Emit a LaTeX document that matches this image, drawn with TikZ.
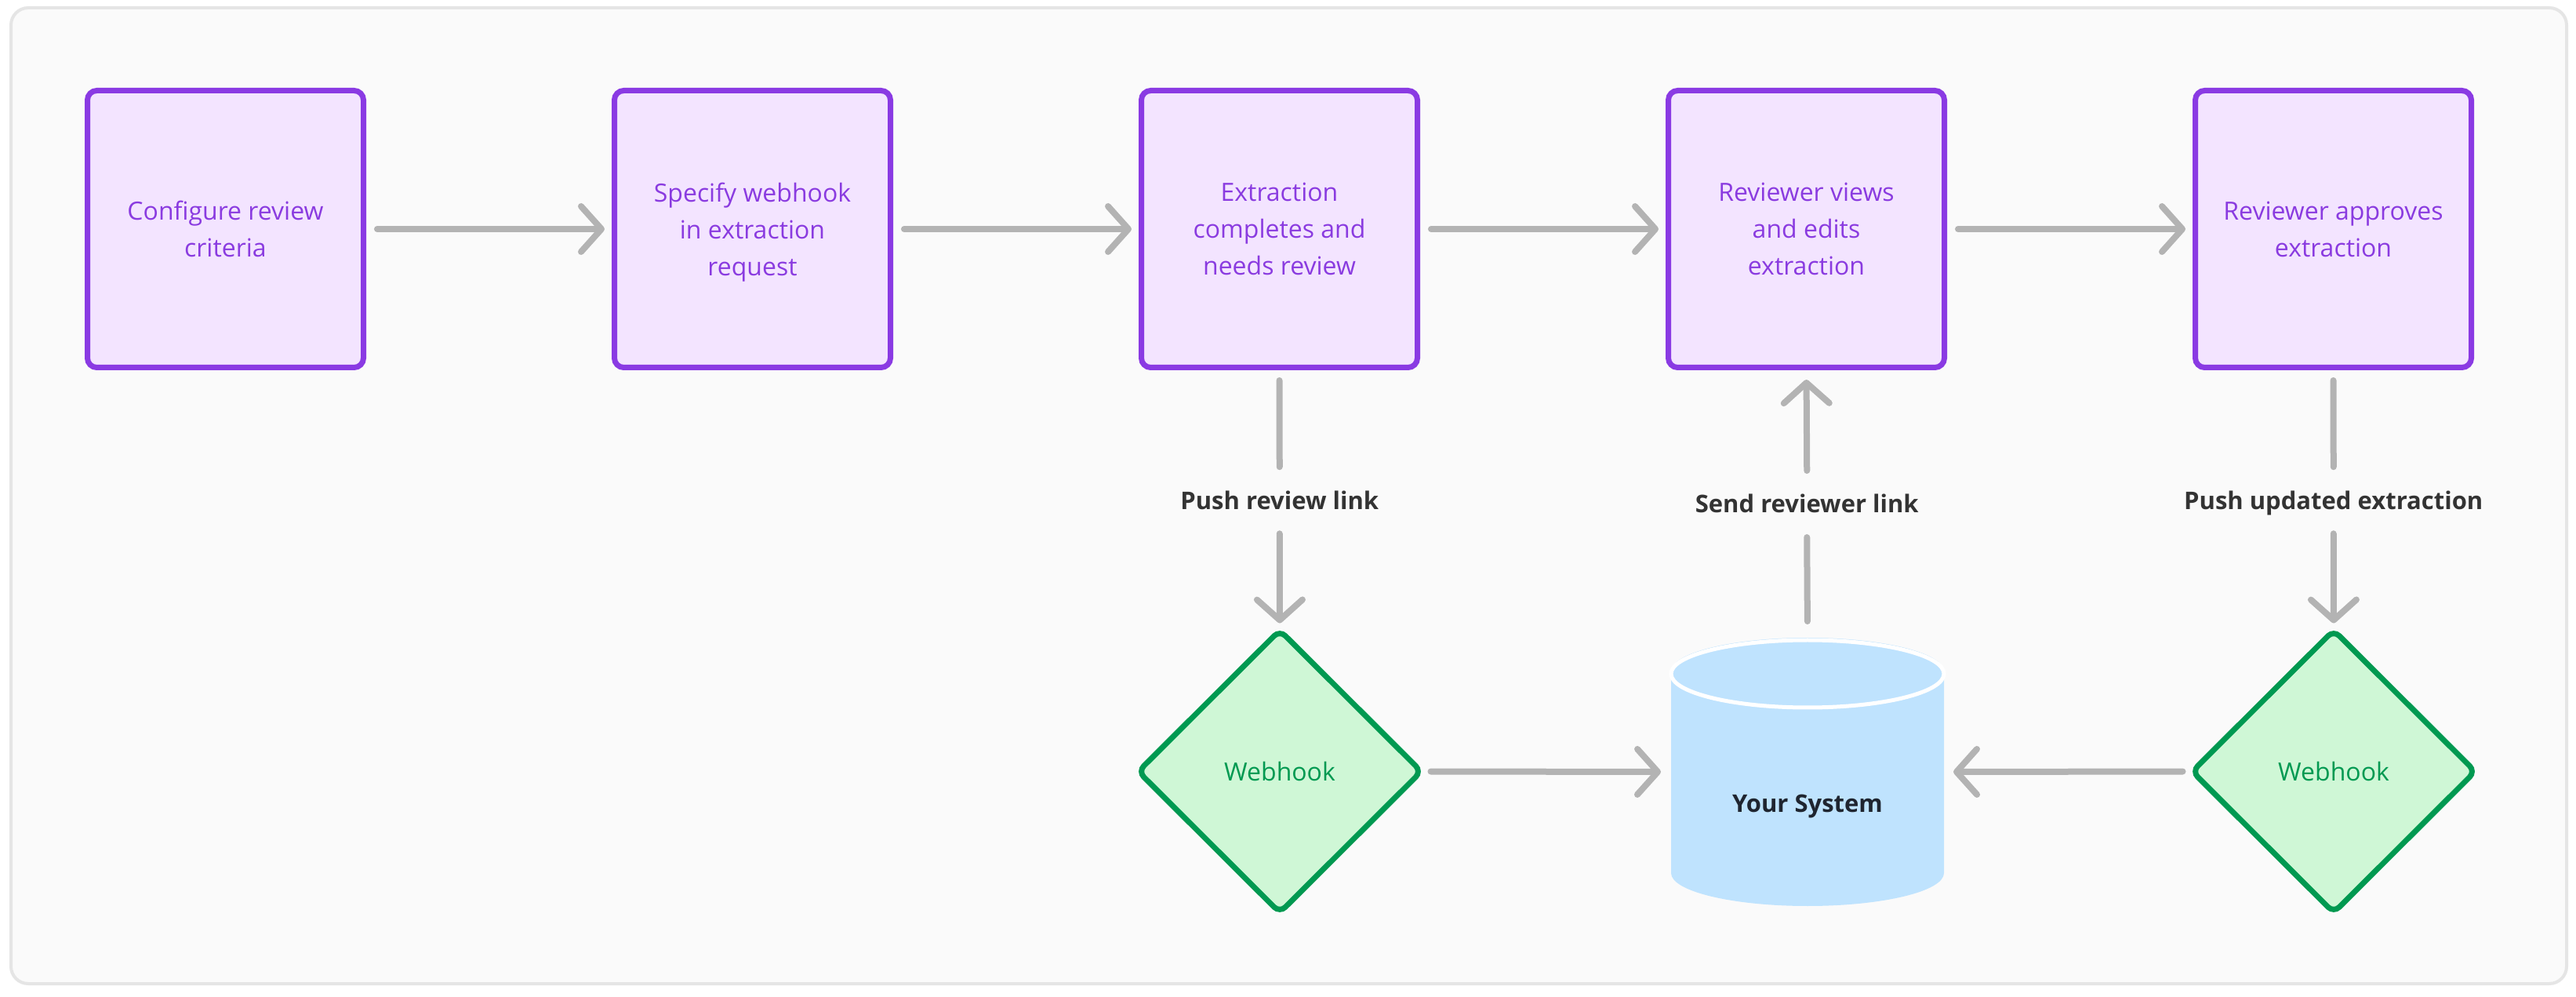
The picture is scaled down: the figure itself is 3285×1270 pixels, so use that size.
\documentclass[tikz,border=0pt]{standalone}
\usepackage{fontspec}
\setmainfont{Open Sans}
\usetikzlibrary{arrows.meta,shapes.geometric}
\definecolor{bg}{HTML}{FAFAFA}
\definecolor{framegray}{HTML}{E5E5E5}
\definecolor{purp}{HTML}{8A3AE3}
\definecolor{purpfill}{HTML}{F3E4FF}
\definecolor{purptext}{HTML}{8A3BE0}
\definecolor{grn}{HTML}{009951}
\definecolor{grnfill}{HTML}{CFF7D6}
\definecolor{grntext}{HTML}{009951}
\definecolor{cylfill}{HTML}{BFE3FE}
\definecolor{arrowgray}{HTML}{B3B3B3}
\definecolor{lbltext}{HTML}{333333}
\definecolor{systext}{HTML}{1F2530}
\begin{document}
\begin{tikzpicture}[x=1pt,y=1pt,
  stepbox/.style={rectangle, draw=purp, fill=purpfill, line width=7pt, rounded corners=12pt,
    minimum width=352pt, minimum height=353pt, inner sep=0pt, align=center, text=purptext,
    text depth=0pt, font=\fontsize{32}{47}\selectfont},
  hook/.style={diamond, draw=grn, fill=grnfill, line width=7pt, rounded corners=10pt,
    minimum width=361pt, minimum height=360pt, inner sep=0pt, outer sep=0pt, text=grntext,
    font=\fontsize{32}{40}\selectfont},
  conn/.style={draw=arrowgray, line width=8pt, line cap=round,
    -{Straight Barb[length=26pt,width=58pt,round]}},
  plain/.style={draw=arrowgray, line width=8pt, line cap=round},
  lbl/.style={text=lbltext, font=\fontsize{31}{38}\selectfont\bfseries, text height=23pt,
    text depth=0pt, minimum height=85pt, inner sep=0pt, outer sep=0pt}
]
\useasboundingbox (0,0) rectangle (3285,1270);
\fill[white] (0,0) rectangle (3285,1270);
\draw[draw=framegray, fill=bg, line width=4pt, rounded corners=22pt] (14,16) rectangle (3273,1260);

% process boxes
\node[stepbox] (b1) at (287.5,978) {Configure review\\criteria};
\node[stepbox] (b2) at (959.5,978) {Specify webhook\\in extraction\\request};
\node[stepbox] (b3) at (1631.5,978) {Extraction\\completes and\\needs review};
\node[stepbox] (b4) at (2303.5,978) {Reviewer views\\and edits\\extraction};
\node[stepbox] (b5) at (2975.5,978) {Reviewer approves\\extraction};

% webhooks
\node[hook] (w1) at (1632,286.5) {Webhook};
\node[hook] (w2) at (2976,286.5) {Webhook};

% cylinder (Your System)
\fill[cylfill] (2131,414) -- (2131,157) arc[start angle=180,end angle=360,x radius=174,y radius=42]
  -- (2479,414) arc[start angle=0,end angle=180,x radius=174,y radius=43] -- cycle;
\draw[white, line width=5pt, fill=cylfill] (2305,411) ellipse[x radius=174, y radius=43];
\node[minimum width=348pt, minimum height=342pt, inner sep=0pt, outer sep=0pt] (sys) at (2305,286) {};
\node[text=systext, font=\fontsize{31}{38}\selectfont\bfseries, text height=23pt, text depth=0pt, inner sep=0pt]
  (syslbl) at (2305,246) {Your System};

% horizontal connectors
\draw[conn, shorten <=14pt, shorten >=9pt] (b1.east) -- (b2.west);
\draw[conn, shorten <=14pt, shorten >=9pt] (b2.east) -- (b3.west);
\draw[conn, shorten <=14pt, shorten >=9pt] (b3.east) -- (b4.west);
\draw[conn, shorten <=14pt, shorten >=9pt] (b4.east) -- (b5.west);

% labels
\path (b3.south) -- (w1.north) node[lbl, midway] (l1) {Push review link};
\path (sys.north) -- (b4.south) node[lbl, midway] (l2) {Send reviewer link};
\path (b5.south) -- (w2.north) node[lbl, midway] (l3) {Push updated extraction};

% vertical connectors
\draw[plain, shorten <=13pt] (b3.south) -- (l1.north);
\draw[conn, shorten >=9pt] (l1.south) -- (w1.north);
\draw[plain, shorten <=21pt] (sys.north) -- (l2.south);
\draw[conn, shorten >=12pt] (l2.north) -- (b4.south);
\draw[plain, shorten <=13pt] (b5.south) -- (l3.north);
\draw[conn, shorten >=9pt] (l3.south) -- (w2.north);

% bottom connectors
\draw[conn, shorten <=12pt, shorten >=13pt] (w1.east) -- (sys.west);
\draw[conn, shorten <=12pt, shorten >=12pt] (w2.west) -- (sys.east);
\end{tikzpicture}
\end{document}
